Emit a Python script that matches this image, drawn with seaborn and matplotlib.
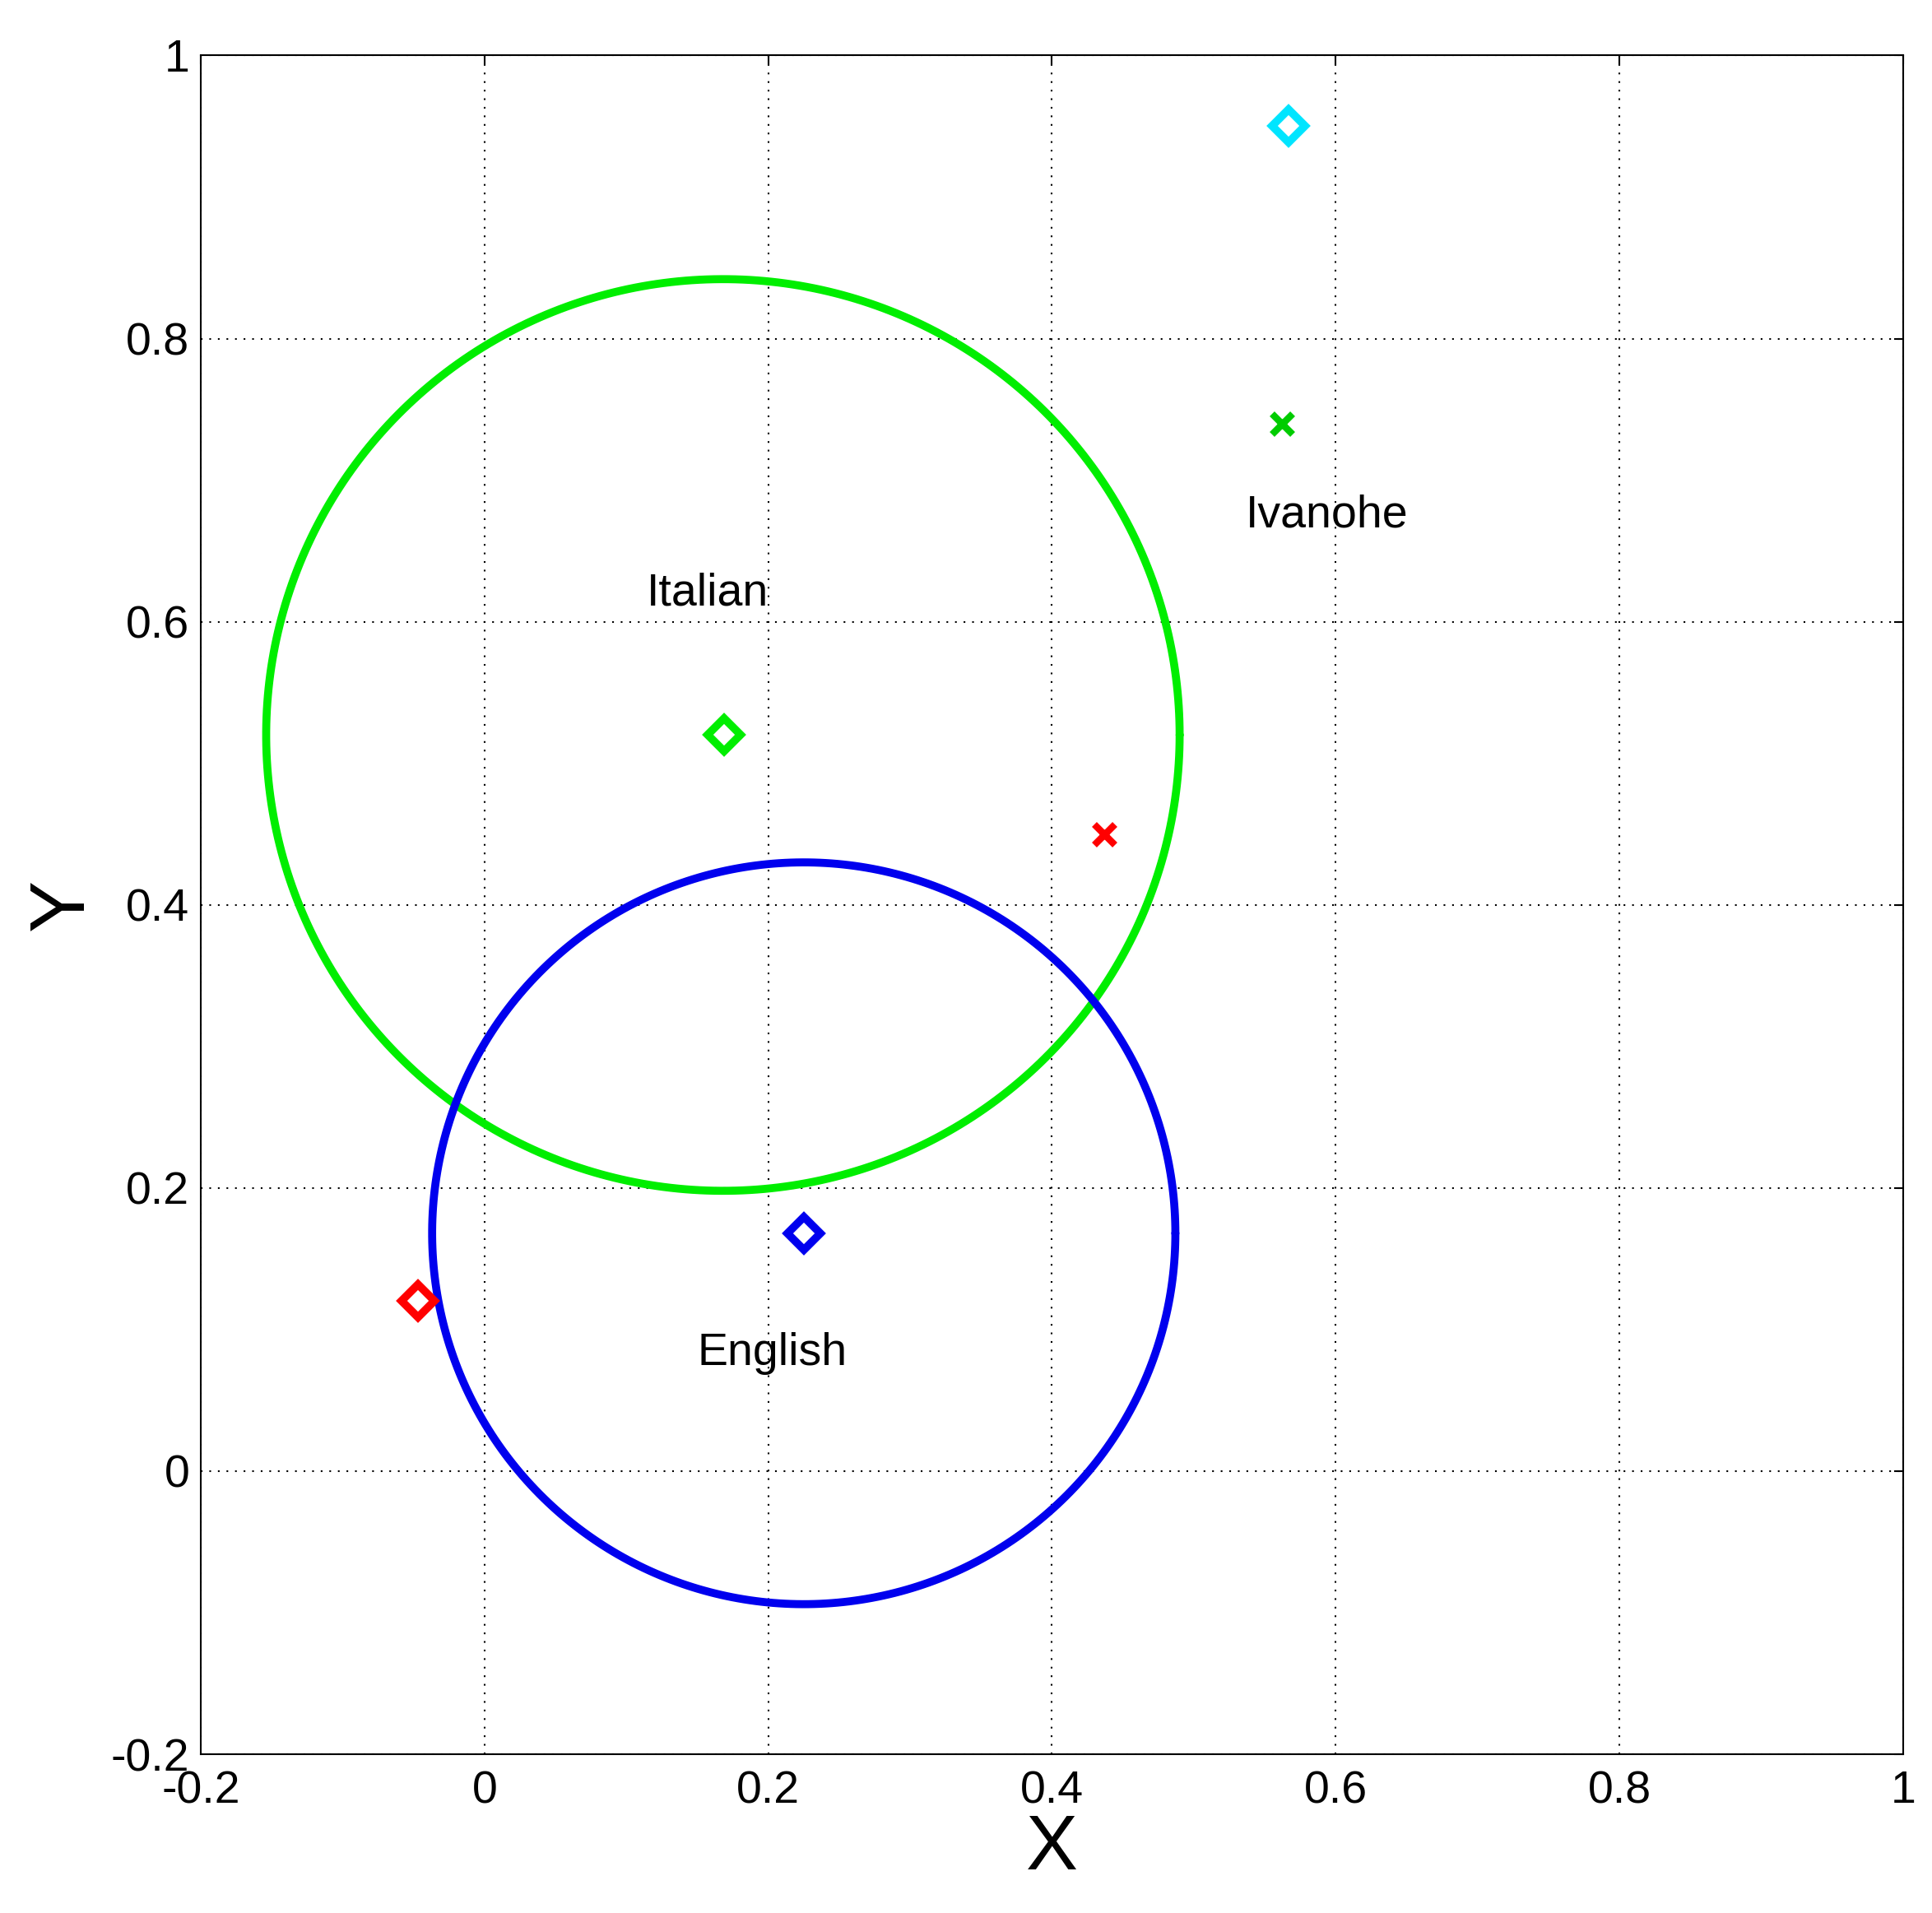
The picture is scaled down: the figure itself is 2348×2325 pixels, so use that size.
import numpy as np
import pandas as pd
import matplotlib
matplotlib.use("Agg")
import matplotlib.pyplot as plt
import seaborn as sns

# circles (center x, center y, radius)
circle_names = ["Italian", "English"]
circle_cx = [0.168, 0.225]
circle_cy = [0.52, 0.168]
circle_r = [0.322, 0.262]
circle_colors = ["#00ee00", "#0000ee"]

# diamond markers
diamond_x = [0.567, 0.169, 0.225, -0.047]
diamond_y = [0.95, 0.52, 0.168, 0.12]
diamond_colors = ["#00e5ff", "#00ee00", "#0000ee", "#ff0000"]

# x markers
cross_x = [0.562, 0.437]
cross_y = [0.74, 0.45]
cross_colors = ["#00cc00", "#ff0000"]

# labels
label_text = ["Italian", "Ivanohe", "English"]
label_x = [0.157, 0.594, 0.203]
label_y = [0.62, 0.675, 0.083]

sns.set_style("white")
plt.rcParams['font.family'] = ['Liberation Sans', 'DejaVu Sans']
plt.rcParams['text.color'] = 'black'
plt.rcParams['axes.labelcolor'] = 'black'
plt.rcParams['xtick.color'] = 'black'
plt.rcParams['ytick.color'] = 'black'

fig, ax = plt.subplots(figsize=(23.48, 23.25), dpi=100)
fig.subplots_adjust(left=0.104, right=0.985, top=0.971, bottom=0.083)

t = np.linspace(0, 2 * np.pi, 400)
for name, cx, cy, r, c in zip(circle_names, circle_cx, circle_cy, circle_r, circle_colors):
    df = pd.DataFrame({"x": cx + r * np.cos(t), "y": cy + r * np.sin(t)})
    sns.lineplot(data=df, x="x", y="y", sort=False, estimator=None,
                 color=c, lw=7, ax=ax)

for x, y, c in zip(diamond_x, diamond_y, diamond_colors):
    ax.plot(x, y, marker="D", markersize=20, markerfacecolor="none",
            markeredgecolor=c, markeredgewidth=7)

for x, y, c in zip(cross_x, cross_y, cross_colors):
    ax.plot(x, y, marker="x", markersize=18, color=c, markeredgewidth=6)

for s, x, y in zip(label_text, label_x, label_y):
    ax.text(x, y, s, fontsize=40, ha="center", va="center", color="black")

ax.set_xlim(-0.2, 1)
ax.set_ylim(-0.2, 1)
ticks = [-0.2, 0, 0.2, 0.4, 0.6, 0.8, 1]
tick_labels = ["-0.2", "0", "0.2", "0.4", "0.6", "0.8", "1"]
ax.set_xticks(ticks)
ax.set_xticklabels(tick_labels)
ax.set_yticks(ticks)
ax.set_yticklabels(tick_labels)
ax.tick_params(labelsize=40, direction="in", length=8, width=1.5, top=True, right=True)
ax.tick_params(axis="x", pad=14)
ax.tick_params(axis="y", pad=10)
ax.grid(True, color="black", linestyle=(0, (1, 4)), linewidth=1.5)
for sp in ax.spines.values():
    sp.set_color("black")
    sp.set_linewidth(1.5)
ax.set_xlabel("X", fontsize=68, labelpad=0)
ax.set_ylabel("Y", fontsize=68, labelpad=10)

fig.savefig("out.png", dpi=100, facecolor="white")
